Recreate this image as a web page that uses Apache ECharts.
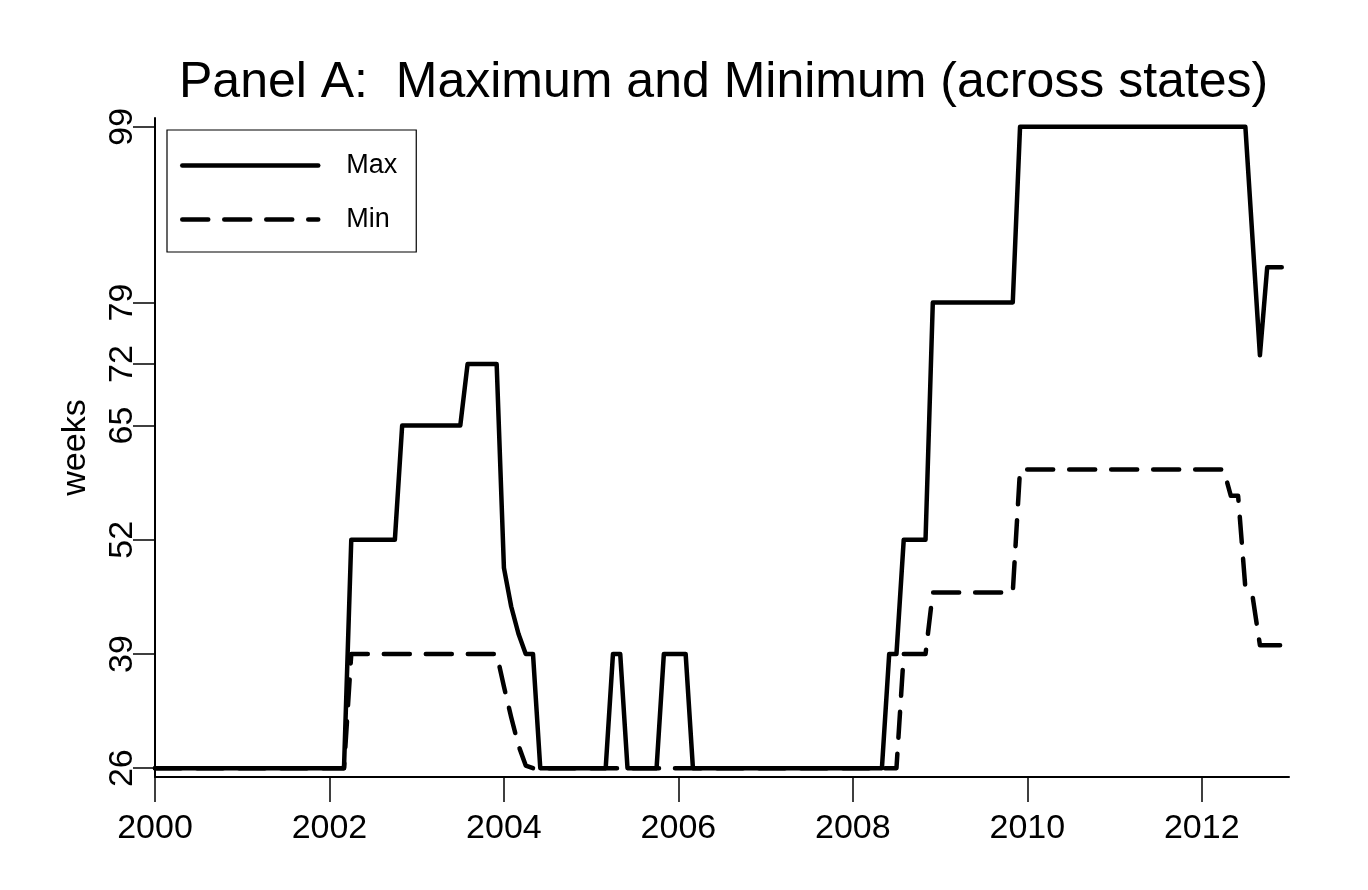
<!DOCTYPE html>
<html>
<head>
<meta charset="utf-8">
<script src="https://cdn.jsdelivr.net/npm/echarts@6.0.0/dist/echarts.min.js"></script>
<style>
  html, body { margin: 0; padding: 0; background: #fff; }
  #chart { width: 1368px; height: 890px; }
</style>
</head>
<body>
<div id="chart"></div>
<script>
// ---- Data (monthly; only the months where the series changes slope) ----
const maxMonths = ['2000-01','2002-03','2002-04','2002-10','2002-11','2003-07','2003-08','2003-12',
  '2004-01','2004-02','2004-03','2004-04','2004-05','2004-06','2005-03','2005-04','2005-05','2005-06',
  '2005-10','2005-11','2006-02','2006-03','2008-05','2008-06','2008-07','2008-08','2008-11','2008-12',
  '2009-11','2009-12','2012-07','2012-08','2012-09','2012-10','2012-12'];
const maxWeeks = [26,26,52,52,65,65,72,72,
  48.8,44.4,41.3,39,39,26,26,39,39,26,
  26,39,39,26,26,39,39,52,52,79,
  79,99,99,86,73,83,83];

const minMonths = ['2000-01','2002-03','2002-04','2003-12','2004-01','2004-02','2004-03','2004-04',
  '2004-05','2008-07','2008-08','2008-11','2008-12','2009-11','2009-12','2012-04','2012-05','2012-06',
  '2012-07','2012-08','2012-09','2012-12'];
const minWeeks = [26,26,39,39,35.3,31.8,28.6,26.3,
  26,26,39,39,46,46,60,60,57,57,
  46.5,45.5,40,40];

const yTicks = [26, 39, 52, 65, 72, 79, 99];
const xTicks = [2000, 2002, 2004, 2006, 2008, 2010, 2012];

function toYear(m) {
  const [y, mo] = m.split('-').map(Number);
  return y + (mo - 1) / 12;
}
const maxData = maxMonths.map((m, i) => [toYear(m), maxWeeks[i]]);
const minData = minMonths.map((m, i) => [toYear(m), minWeeks[i]]);

const FONT = '"Liberation Sans", Arial, Helvetica, sans-serif';

const chart = echarts.init(document.getElementById('chart'), null, { renderer: 'canvas' });
chart.setOption({
  animation: false,
  backgroundColor: '#fff',
  title: {
    text: 'Panel A:  Maximum and Minimum (across states)',
    left: 179,
    top: 58,
    padding: 0,
    textStyle: { fontFamily: FONT, fontSize: 50, fontWeight: 'normal', color: '#000' }
  },
  legend: {
    orient: 'vertical',
    left: 167,
    top: 130,
    padding: [22, 19, 19, 13],
    itemWidth: 136,
    itemHeight: 20,
    itemGap: 27,
    borderColor: '#000',
    borderWidth: 1.2,
    borderRadius: 0,
    backgroundColor: '#fff',
    data: ['Max', 'Min'],
    itemStyle: { opacity: 0 },
    lineStyle: { width: 4.5 },
    textStyle: { fontFamily: FONT, fontSize: 27, color: '#000', padding: [0, 0, 0, 23] }
  },
  grid: { left: 155, right: 79, top: 118, bottom: 113, containLabel: false },
  xAxis: {
    type: 'value',
    min: 2000,
    max: 2013,
    interval: 2,
    splitLine: { show: false },
    axisLine: { show: true, lineStyle: { color: '#000', width: 2 } },
    axisTick: { show: true, length: 25, lineStyle: { color: '#000', width: 1.5 }, customValues: xTicks },
    axisLabel: {
      show: true, margin: 35, color: '#000', fontFamily: FONT, fontSize: 34,
      customValues: xTicks, formatter: v => String(v)
    }
  },
  yAxis: {
    type: 'value',
    min: 25,
    max: 100,
    name: 'weeks',
    nameLocation: 'middle',
    nameRotate: 90,
    nameGap: 62,
    nameTextStyle: { fontFamily: FONT, fontSize: 34, color: '#000' },
    splitLine: { show: false },
    axisLine: { show: true, lineStyle: { color: '#000', width: 2 } },
    axisTick: { show: true, length: 22, lineStyle: { color: '#000', width: 1.5 }, customValues: yTicks },
    axisLabel: {
      show: true, rotate: 90, margin: 15, color: '#000', fontFamily: FONT, fontSize: 34,
      customValues: yTicks, formatter: v => String(v)
    }
  },
  series: [
    {
      name: 'Min',
      type: 'line',
      data: minData,
      symbol: 'none',
      showSymbol: false,
      z: 2,
      itemStyle: { color: '#000' },
      lineStyle: { color: '#000', width: 4.5, type: [26, 16], cap: 'round', join: 'round' }
    },
    {
      name: 'Max',
      type: 'line',
      data: maxData,
      symbol: 'none',
      showSymbol: false,
      z: 3,
      itemStyle: { color: '#000' },
      lineStyle: { color: '#000', width: 4.5, type: 'solid', cap: 'round', join: 'round' }
    }
  ]
});
</script>
</body>
</html>
